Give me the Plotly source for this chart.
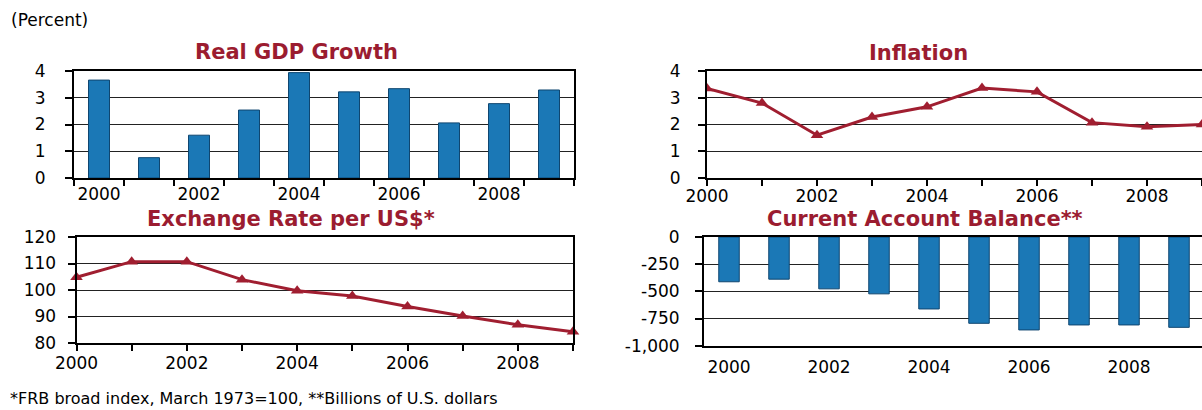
import plotly.graph_objects as go

# ---------------- data ----------------
years = [2000, 2001, 2002, 2003, 2004, 2005, 2006, 2007, 2008, 2009]
year_cats = ["2000", "2001", "2002", "2003", "2004", "2005", "2006", "2007", "2008", "2009"]
year_labels = ["2000", "", "2002", "", "2004", "", "2006", "", "2008", ""]

gdp_growth = [3.66, 0.76, 1.60, 2.54, 3.94, 3.22, 3.34, 2.06, 2.78, 3.29]
inflation = [3.35, 2.80, 1.60, 2.28, 2.66, 3.36, 3.22, 2.07, 1.92, 2.00]
exchange_rate = [104.8, 110.7, 110.7, 103.9, 99.7, 97.7, 93.8, 90.2, 86.9, 84.2]
current_account = [-412, -388, -477, -523, -662, -794, -855, -809, -809, -831]

pct_ticks = [0, 1, 2, 3, 4]
fx_ticks = [80, 90, 100, 110, 120]
ca_ticks = [0, -250, -500, -750, -1000]
ca_tick_labels = ["0", "-250", "-500", "-750", "-1,000"]

titles = ["Real GDP Growth", "Inflation", "Exchange Rate per US$*", "Current Account Balance**"]
unit_label = "(Percent)"
footnote = "*FRB broad index, March 1973=100, **Billions of U.S. dollars"

# ---------------- style ----------------
W, H = 1202, 410
BAR = "#1b78b6"
BAR_EDGE = "#0f4670"
RED = "#a01e30"
TITLE_RED = "#9b1c30"
FONT = "DejaVu Sans"

def px_x(p):
    return p / W

def px_y(p):
    return 1 - p / H

fig = go.Figure()

fig.add_trace(go.Bar(x=year_cats, y=gdp_growth, width=0.42,
                     marker=dict(color=BAR, line=dict(color=BAR_EDGE, width=1)),
                     xaxis="x", yaxis="y", showlegend=False))
fig.add_trace(go.Scatter(x=years, y=inflation, mode="lines+markers",
                         line=dict(color=RED, width=3),
                         marker=dict(symbol="triangle-up", size=11, color=RED),
                         cliponaxis=True, xaxis="x2", yaxis="y2", showlegend=False))
fig.add_trace(go.Scatter(x=years, y=exchange_rate, mode="lines+markers",
                         line=dict(color=RED, width=3),
                         marker=dict(symbol="triangle-up", size=11, color=RED),
                         cliponaxis=False, xaxis="x3", yaxis="y3", showlegend=False))
fig.add_trace(go.Bar(x=year_cats, y=current_account, width=0.41,
                     marker=dict(color=BAR, line=dict(color=BAR_EDGE, width=1)),
                     xaxis="x4", yaxis="y4", showlegend=False))

tick_font_x = dict(family=FONT, size=17, color="black")
tick_font_y = dict(family=FONT, size=17, color="black")

def yax(domain, rng, tickvals, anchor, mirror=True, ticktext=None, standoff=14):
    d = dict(domain=domain, range=rng, tickvals=tickvals, anchor=anchor,
             showgrid=True, gridcolor="#222222", gridwidth=1,
             showline=True, linecolor="black", linewidth=2, mirror=mirror,
             ticks="outside", ticklen=7, tickcolor="black", tickwidth=1.5,
             tickfont=tick_font_y, zeroline=False, fixedrange=True,
             ticklabelstandoff=standoff, automargin=False)
    if ticktext is not None:
        d["ticktext"] = ticktext
    return d

def xax(domain, anchor, **kw):
    d = dict(domain=domain, anchor=anchor, tickangle=0,
             ticks="outside", ticklen=6, tickcolor="black", tickwidth=1.5,
             showline=True, linecolor="black", linewidth=2, mirror=True,
             showgrid=False, zeroline=False, tickfont=tick_font_x, fixedrange=True,
             ticklabelstandoff=-4, automargin=False)
    d.update(kw)
    return d

GDP_DOM_X = [px_x(74), px_x(574)]
INF_DOM_X = [px_x(707), 1.0]
FX_DOM_X = [px_x(76.5), px_x(573)]
CA_DOM_X = [px_x(704), 1.0]
TOP_DOM_Y = [px_y(178), px_y(71)]
FX_DOM_Y = [px_y(343), px_y(237)]
CA_DOM_Y = [px_y(345.7), px_y(237)]

fig.update_layout(
    width=W, height=H,
    margin=dict(l=0, r=0, t=0, b=0, autoexpand=False),
    paper_bgcolor="white", plot_bgcolor="white",
    font=dict(family=FONT, color="black"),
    xaxis=xax(GDP_DOM_X, "y", type="category", tickvals=year_cats, ticktext=year_labels,
              tickson="boundaries", ticklabelstandoff=0),
    yaxis=yax(TOP_DOM_Y, [0, 4], pct_ticks, "x", standoff=16),
    xaxis2=xax(INF_DOM_X, "y2", range=[2000, 2009], tickvals=years, ticktext=year_labels),
    yaxis2=yax(TOP_DOM_Y, [0, 4], pct_ticks, "x2", mirror=False, standoff=14),
    xaxis3=xax(FX_DOM_X, "y3", range=[2000, 2009], tickvals=years, ticktext=year_labels,
               ticklabelstandoff=-2),
    yaxis3=yax(FX_DOM_Y, [80, 120], fx_ticks, "x3", standoff=8),
    xaxis4=xax(CA_DOM_X, "y4", type="category", range=[-0.5, 9.46],
               tickvals=year_cats, ticktext=year_labels, ticks="", ticklabelstandoff=5),
    yaxis4=yax(CA_DOM_Y, [-1000, 0], ca_ticks, "x4", mirror=False, ticktext=ca_tick_labels,
               standoff=12),
    xaxis5=dict(domain=CA_DOM_X, overlaying="x4", range=[-0.5, 9.46], side="top",
                tickvals=[i - 0.5 for i in range(len(years) + 1)],
                ticks="inside", ticklen=5, tickcolor="black", tickwidth=1.5,
                showticklabels=False, showline=False, showgrid=False, zeroline=False,
                anchor="y4", fixedrange=True, automargin=False),
)

title_font = dict(family=FONT, size=21, color=TITLE_RED)
title_pos = [(296, 52), (918, 53), (291, 219), (925, 219)]
for t, (x, y) in zip(titles, title_pos):
    fig.add_annotation(text="<b>%s</b>" % t, x=px_x(x), y=px_y(y), xref="paper", yref="paper",
                       xanchor="center", yanchor="middle", showarrow=False, font=title_font)

fig.add_annotation(text=unit_label, x=px_x(9), y=px_y(20), xref="paper", yref="paper",
                   xanchor="left", yanchor="middle", showarrow=False,
                   font=dict(family=FONT, size=17, color="black"))
fig.add_annotation(text=footnote, x=px_x(8), y=px_y(398), xref="paper", yref="paper",
                   xanchor="left", yanchor="middle", showarrow=False,
                   font=dict(family=FONT, size=16, color="black"))

fig.write_html("out.html", config={"displayModeBar": False},
               post_script="document.body.style.margin='0';document.body.style.overflow='hidden';")
